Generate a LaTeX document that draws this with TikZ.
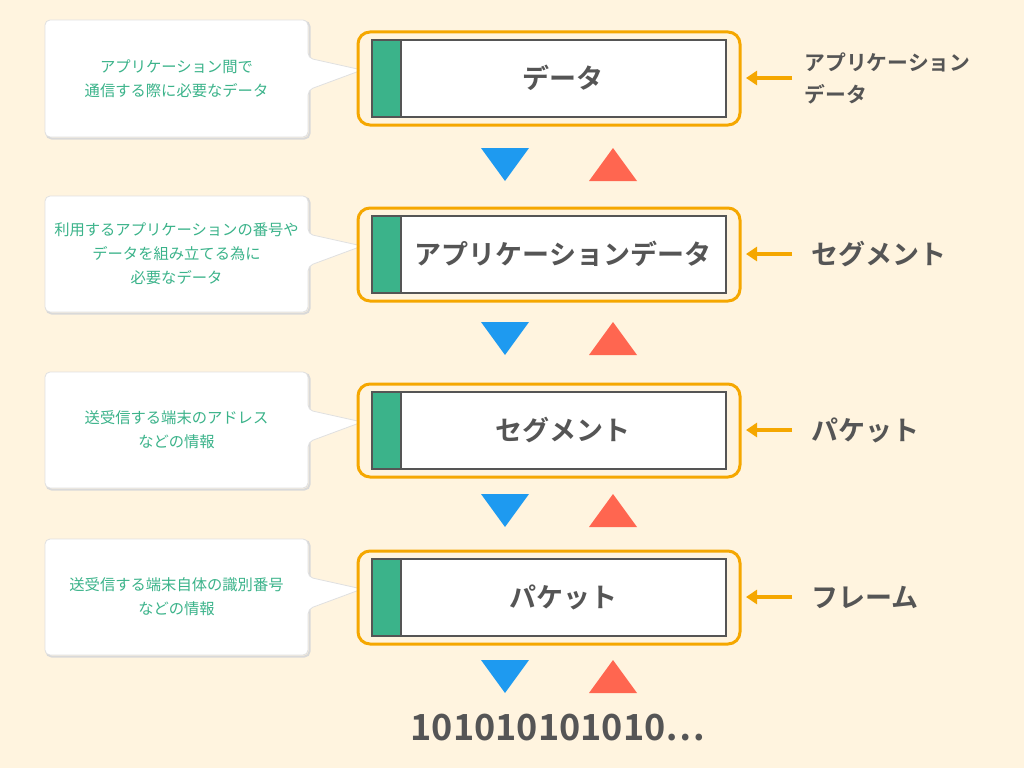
\documentclass[tikz,border=0pt]{standalone}
\usepackage{fontspec}
\setmainfont{Noto Sans CJK JP}
\newfontfamily\jpb{Noto Sans CJK JP Bold}
\usetikzlibrary{arrows.meta}
\definecolor{bg}{HTML}{FFF4DF}
\definecolor{org}{HTML}{F5A700}
\definecolor{grn}{HTML}{3BB38A}
\definecolor{gry}{HTML}{555555}
\definecolor{blu}{HTML}{1E9AF0}
\definecolor{rd}{HTML}{FF6650}
\begin{document}
\begin{tikzpicture}[x=1pt,y=-1pt,
  call/.style={fill=white,draw=black!12,line width=0.8pt},
  ctext/.style={text=grn,font=\fontsize{15.3}{24}\selectfont,align=center},
  btext/.style={text=gry,font=\jpb\fontsize{27}{30}\selectfont},
  rtext/.style={text=gry,font=\jpb\fontsize{27}{30}\selectfont,anchor=west},
  arr/.style={org,line width=3.2pt,-{Triangle[length=11pt,width=14pt]}}]
\fill[bg] (0,0) rectangle (1024,768);
\useasboundingbox (0,0) rectangle (1024,768);
\foreach \y/\ca/\cb/\ct/\bt/\n in {
  78/20/137/{アプリケーション間で\\通信する際に必要なデータ}/データ/a,
  254/196/312/{利用するアプリケーションの番号や\\データを組み立てる為に\\必要なデータ}/アプリケーションデータ/b,
  430/372/488/{送受信する端末のアドレス\\などの情報}/セグメント/c,
  597/539/655/{送受信する端末自体の識別番号\\などの情報}/パケット/d}{
  \draw[black!15,line width=2pt,rounded corners=5pt] (46.5,\ca+1.5) -- (309.5,\ca+1.5) -- (309.5,\cb+1.5) -- (46.5,\cb+1.5) -- cycle;
  \draw[call,rounded corners=5pt] (45,\ca) -- (308,\ca) -- (308,\y-20) -- (362,\y-8) -- (308,\y+12) -- (308,\cb) -- (45,\cb) -- cycle;
  \node[ctext] (c\n) at (176.5,{(\ca+\cb)/2}) {\ct};
  \draw[org,line width=3pt,rounded corners=12pt] (358,\y-46) rectangle (740,\y+47);
  \draw[gry,line width=1.5pt,fill=white] (372,\y-38) rectangle (726,\y+39);
  \fill[grn] (372.75,\y-37.25) rectangle (401,\y+38.25);
  \draw[gry,line width=1.5pt] (401,\y-38) -- (401,\y+39);
  \node[btext] (b\n) at (563,\y) {\bt};
  \coordinate (s\n) at (792,\y);
  \coordinate (e\n) at (746,\y);
  \draw[arr] (s\n) -- (e\n);
}
\node[text=gry,font=\jpb\fontsize{20.8}{32}\selectfont,align=left,anchor=west] (la) at (801,78) {アプリケーション\\データ};
\node[rtext] (lb) at (808,254) {セグメント};
\node[rtext] (lc) at (808,430) {パケット};
\node[rtext] (ld) at (808,597) {フレーム};
\foreach \t in {148,322,494,660}{
  \fill[blu] (481,\t) -- (529,\t) -- (505,\t+33) -- cycle;
  \fill[rd] (589,\t+33) -- (637,\t+33) -- (613,\t) -- cycle;
}
\node[text=gry,font=\jpb\fontsize{36}{38}\selectfont] (bits) at (558,728) {101010101010…};
\end{tikzpicture}
\end{document}
